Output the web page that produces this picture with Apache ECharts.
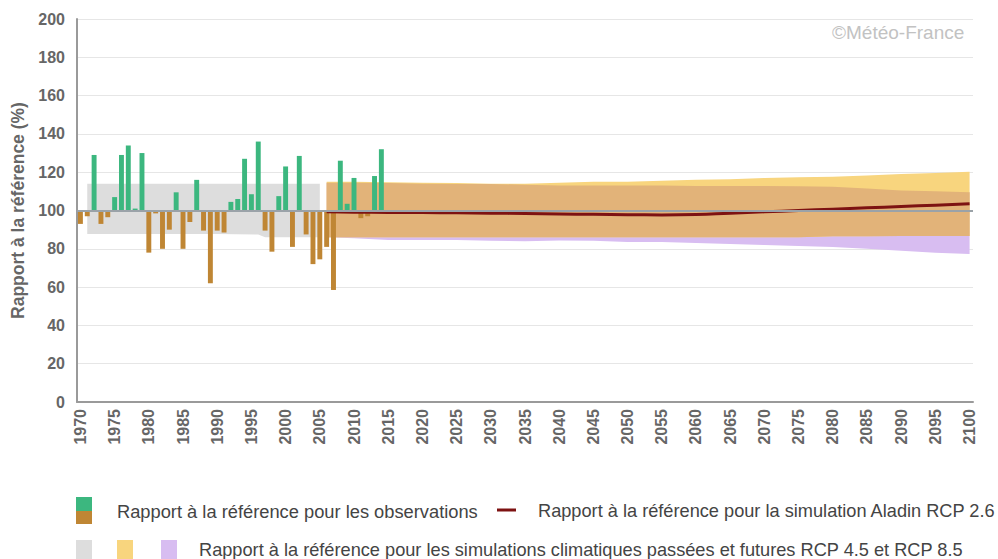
<!DOCTYPE html>
<html><head><meta charset="utf-8">
<script src="https://cdn.jsdelivr.net/npm/echarts@6/dist/echarts.min.js"></script>
<style>html,body{margin:0;padding:0;background:#fff}#c{width:998px;height:559px}</style>
</head><body><div id="c"></div>
<script>
// ---- Data ----
const obsYears = [];
for (let y = 1970; y <= 2014; y++) obsYears.push(y);
const obsValues = [93,97,129,93,96.5,107,129,134,101,130,78,98.5,80,90,109.5,80,94,116,89.5,62,
  89.5,88.5,104.5,106,127,108.5,136,89.5,78.5,107.5,123,81,128.5,87.5,72,74.5,81,58.5,126,103.5,
  117,96,97,118,132];

const pastYears = [1971, 1980, 1990, 1996, 1997, 2005];
const pastHigh  = [114, 114, 114, 114, 114, 114];
const pastLow   = [87.7, 87.7, 87.7, 87.5, 86, 86];

const futYears  = [2006,2010,2015,2020,2025,2030,2035,2040,2045,2050,2055,2060,2065,2070,2075,2080,2085,2090,2095,2100];
const rcp45High = [115,115,114.8,114.5,114.3,114,114,114.5,115,115,115.5,116,116.3,117,117.3,117.6,118.3,119,119.6,120.3];
const rcp85High = [114.5,114.5,114.3,114,113.8,113.8,113.5,113,113,113,113,112.8,112.8,112.8,112.6,112.4,111.5,110.5,110,109.5];
const rcp45Low  = [86,86,86,86,86,86,86,86,86,86,86,86,86,86,86,86.5,86.5,86.7,86.7,86.7];
const rcp85Low  = [86,85.5,84.6,84.6,84.6,84.2,84,84.3,84.2,83.5,83.5,83,82.5,82,81.5,81,80,79,78,77.3];

const aladinYears  = futYears;
const aladinValues = [99.3,99.1,99,98.9,98.8,98.6,98.4,98.2,98,97.8,97.7,97.9,98.6,99.3,100,100.7,101.4,102.1,102.8,103.5];

const xTickLabels = [];
for (let y = 1970; y <= 2100; y += 5) xTickLabels.push(y);

// ---- Style ----
const GREEN = '#3cb77f', BROWN = '#bf8634', GRAY = '#dddddd', GOLD = '#f8d57e', LAV = '#d8bdf1', TAN = '#e2b379', RED = '#7d1212';
const FONT = '"Liberation Sans", Arial, sans-serif';
const TXT = '#666666';

const ovHigh = rcp45High.map((v, i) => Math.min(v, rcp85High[i]));
const ovLow  = rcp45Low.map((v, i) => Math.max(v, rcp85Low[i]));

function band(xs, lo, hi, color, z) {
  return {
    type: 'custom', z: z, silent: true, clip: true,
    data: [[xs[0], lo[0]]],
    renderItem: function (params, api) {
      const pts = [];
      for (let i = 0; i < xs.length; i++) pts.push(api.coord([xs[i], hi[i]]));
      for (let i = xs.length - 1; i >= 0; i--) pts.push(api.coord([xs[i], lo[i]]));
      return { type: 'polygon', shape: { points: pts }, style: { fill: color } };
    }
  };
}

const chart = echarts.init(document.getElementById('c'), null, { renderer: 'svg' });
chart.setOption({
  animation: false,
  backgroundColor: '#ffffff',
  grid: { left: 77, right: 25, top: 19, bottom: 157, containLabel: false },
  xAxis: {
    type: 'value', min: 1969.5, max: 2100.5,
    axisLine: { show: true, lineStyle: { color: '#9a9a9a', width: 2 } },
    axisTick: { show: false },
    splitLine: { show: false },
    axisLabel: {
      customValues: xTickLabels, rotate: 90, margin: 7,
      formatter: function (v) { return String(v); },
      color: TXT, fontWeight: 'bold', fontSize: 16, fontFamily: FONT
    }
  },
  yAxis: {
    type: 'value', min: 0, max: 200, interval: 20,
    name: 'Rapport à la référence (%)', nameLocation: 'middle', nameRotate: 90, nameGap: 50,
    nameTextStyle: { color: TXT, fontWeight: 'bold', fontSize: 17.5, fontFamily: FONT },
    axisLine: { show: true, lineStyle: { color: '#9a9a9a', width: 2 } },
    axisTick: { show: false },
    splitLine: { show: true, lineStyle: { color: '#e6e6e6', width: 1 } },
    axisLabel: { margin: 12, color: TXT, fontWeight: 'bold', fontSize: 16, fontFamily: FONT }
  },
  series: [
    band(pastYears, pastLow, pastHigh, GRAY, 1),
    band(futYears, rcp85Low, rcp85High, LAV, 1),
    band(futYears, rcp45Low, rcp45High, GOLD, 1),
    band(futYears, ovLow, ovHigh, TAN, 1),
    {
      type: 'custom', z: 2, silent: true,
      data: obsYears.map((y, i) => [y, obsValues[i]]),
      renderItem: function (params, api) {
        const x = api.value(0), v = api.value(1);
        const b = api.coord([x, 100]), t = api.coord([x, v]);
        const w = api.size([0.72, 0])[0];
        return { type: 'rect', shape: { x: b[0] - w / 2, y: Math.min(b[1], t[1]), width: w, height: Math.abs(b[1] - t[1]) },
          style: { fill: v >= 100 ? GREEN : BROWN } };
      }
    },
    {
      type: 'line', z: 3, data: [], silent: true,
      markLine: { silent: true, symbol: ['none', 'none'], label: { show: false },
        lineStyle: { color: '#9aa2a8', width: 2, type: 'solid' },
        data: [{ yAxis: 100 }] }
    },
    {
      type: 'line', z: 4, smooth: true, showSymbol: false, symbol: 'none', silent: true,
      data: aladinYears.map((y, i) => [y, aladinValues[i]]),
      lineStyle: { color: RED, width: 3 }
    }
  ],
  graphic: [
    { type: 'text', left: 832, top: 23, style: { text: '©Météo-France', fill: '#c2c2c2', font: '19px ' + FONT } },
    { type: 'rect', shape: { x: 76, y: 497, width: 16, height: 14 }, style: { fill: GREEN } },
    { type: 'rect', shape: { x: 76, y: 511, width: 16, height: 13 }, style: { fill: BROWN } },
    { type: 'text', x: 117, y: 511, style: { text: 'Rapport à la référence pour les observations', fill: '#444', font: '18.3px ' + FONT, verticalAlign: 'middle' } },
    { type: 'rect', shape: { x: 497, y: 508.5, width: 19, height: 3 }, style: { fill: RED } },
    { type: 'text', x: 538, y: 511, style: { text: 'Rapport à la référence pour la simulation Aladin RCP 2.6', fill: '#444', font: '18.2px ' + FONT, verticalAlign: 'middle' } },
    { type: 'rect', shape: { x: 76, y: 540, width: 16, height: 19 }, style: { fill: GRAY } },
    { type: 'rect', shape: { x: 117, y: 540, width: 16, height: 19 }, style: { fill: GOLD } },
    { type: 'rect', shape: { x: 161, y: 540, width: 16, height: 19 }, style: { fill: LAV } },
    { type: 'text', x: 199, y: 550, style: { text: 'Rapport à la référence pour les simulations climatiques passées et futures RCP 4.5 et RCP 8.5', fill: '#444', font: '18.2px ' + FONT, verticalAlign: 'middle' } }
  ]
});
</script>
</body></html>
